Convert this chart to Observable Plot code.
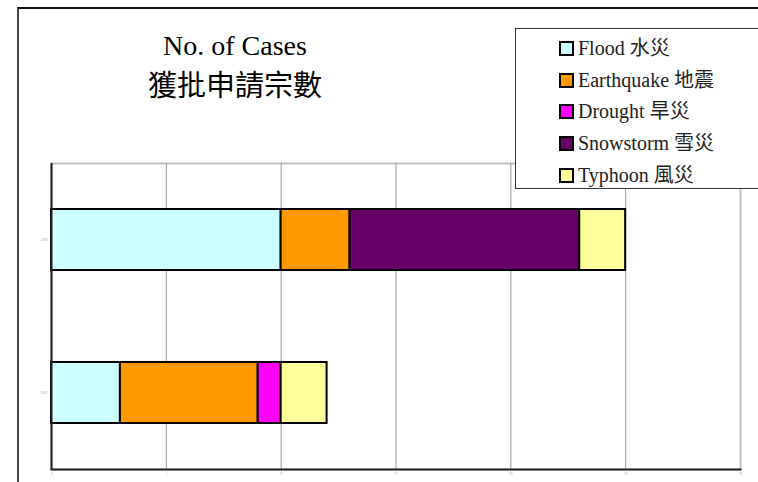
<!DOCTYPE html>
<html>
<head>
<meta charset="utf-8">
<script src="https://cdn.jsdelivr.net/npm/d3@7"></script>
<script src="https://cdn.jsdelivr.net/npm/@observablehq/plot@0.6"></script>
<style>
  html, body { margin: 0; padding: 0; background: #fff; }
  #wrap { position: relative; width: 758px; height: 482px; overflow: hidden; background: #fff; }
  #wrap svg { position: absolute; left: 0; top: 0; }
  .frame { position: absolute; left: 17px; top: 7px; width: 800px; height: 600px;
           border-top: 2px solid #111; border-left: 2px solid #444; box-sizing: border-box; }
  .t { position: absolute; left: 35px; width: 400px; text-align: center; color: #000;
       font-family: "Liberation Serif", "Noto Sans CJK TC", serif; white-space: nowrap; }
  .legend { position: absolute; left: 515px; top: 28px; width: 244px; height: 161px;
            border: 1px solid #333; box-sizing: border-box; background: #fff;
            font-family: "Liberation Serif", "Noto Sans CJK TC", serif; font-size: 20px; color: #222; }
  .item { position: absolute; left: 43px; height: 24px; line-height: 24px; white-space: nowrap; }
  .sw { display: inline-block; width: 11px; height: 11px; border: 2px solid #000;
        vertical-align: middle; margin-right: 4px; position: relative; top: -2px; }
</style>
</head>
<body>
<div id="wrap"></div>
<script>
const years = ["2008", "2007"];
const seriesNames = ["Flood 水災", "Earthquake 地震", "Drought 旱災", "Snowstorm 雪災", "Typhoon 風災"];
const seriesColors = ["#CCFFFF", "#FF9900", "#FF00FF", "#660066", "#FFFF99"];
const flood = [10, 3];
const earthquake = [3, 6];
const drought = [0, 1];
const snowstorm = [10, 0];
const typhoon = [2, 2];
const xTicks = [0, 5, 10, 15, 20, 25, 30];

const valuesBySeries = [flood, earthquake, drought, snowstorm, typhoon];
const table = [];
years.forEach((yr, i) => {
  seriesNames.forEach((s, j) => {
    table.push({year: yr, series: s, value: valuesBySeries[j][i]});
  });
});
const data = table.filter(d => d.value > 0);

const wrap = document.getElementById("wrap");

const chart = Plot.plot({
  width: 758,
  height: 482,
  marginLeft: 51,
  marginRight: 18,
  marginTop: 163,
  marginBottom: 13,
  style: {background: "transparent", overflow: "visible"},
  x: {domain: [0, 30], axis: null, label: null},
  y: {domain: years, paddingInner: 0.6, paddingOuter: 0.3, axis: null, label: null},
  color: {domain: seriesNames, range: seriesColors},
  marks: [
    Plot.frame({stroke: "#c0c0c0", strokeWidth: 2}),
    Plot.ruleX(xTicks.slice(1, -1), {stroke: "#999", strokeWidth: 1}),
    Plot.barX(data, Plot.stackX({
      x: "value", y: "year", fill: "series",
      stroke: "#000", strokeWidth: 2, inset: 0,
      order: seriesNames
    })),
    Plot.ruleX([0], {stroke: "#222", strokeWidth: 2}),
    Plot.frame({anchor: "bottom", stroke: "#222", strokeWidth: 2}),
    Plot.axisX({ticks: xTicks, tickSize: 0, tickPadding: 3, fontSize: 3, color: "#aaa", label: null, tickFormat: d => String(d)}),
    Plot.axisY({tickSize: 0, tickPadding: 4, fontSize: 3, color: "#aaa", label: null})
  ]
});
wrap.appendChild(chart);

const frame = document.createElement("div");
frame.className = "frame";
wrap.appendChild(frame);

const t1 = document.createElement("div");
t1.className = "t";
t1.style.top = "30px"; t1.style.fontSize = "28px"; t1.style.lineHeight = "32px";
t1.textContent = "No. of Cases";
wrap.appendChild(t1);

const t2 = document.createElement("div");
t2.className = "t";
t2.style.top = "70px"; t2.style.fontSize = "29px"; t2.style.lineHeight = "32px";
t2.textContent = "獲批申請宗數";
wrap.appendChild(t2);

const legend = document.createElement("div");
legend.className = "legend";
const rowCenters = [19, 51, 82, 114, 146];
seriesNames.forEach((s, i) => {
  const it = document.createElement("div");
  it.className = "item";
  it.style.top = (rowCenters[i] - 12) + "px";
  const sw = document.createElement("span");
  sw.className = "sw";
  sw.style.background = seriesColors[i];
  it.appendChild(sw);
  it.appendChild(document.createTextNode(s));
  legend.appendChild(it);
});
wrap.appendChild(legend);
</script>
</body>
</html>
